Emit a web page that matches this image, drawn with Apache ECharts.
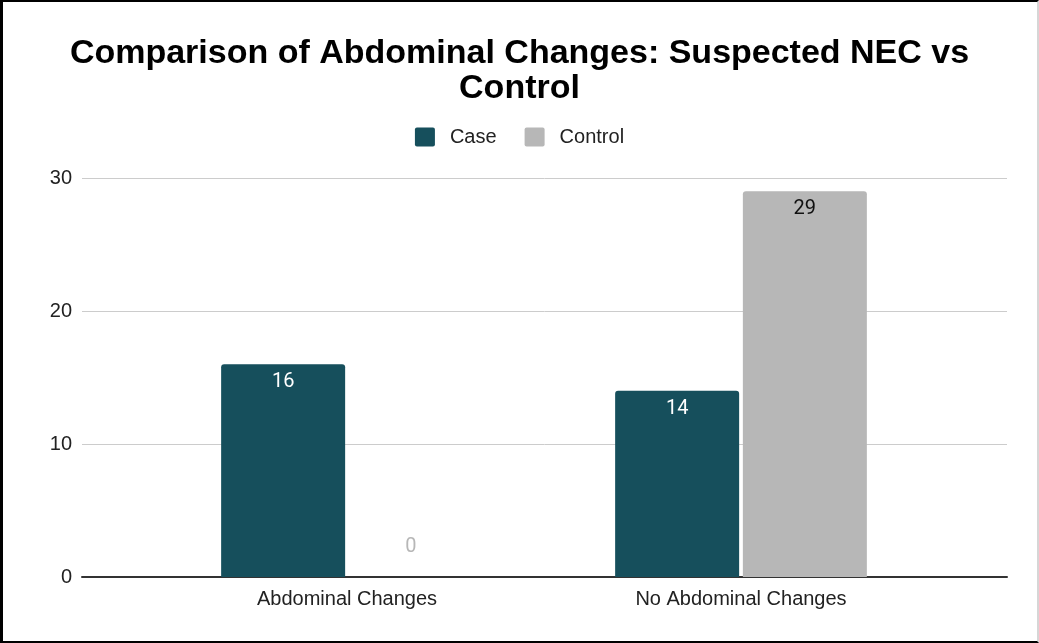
<!DOCTYPE html>
<html>
<head>
<meta charset="utf-8">
<script src="https://cdn.jsdelivr.net/npm/echarts@6/dist/echarts.min.js"></script>
<style>
  html, body { margin: 0; padding: 0; background: #fff; }
  #wrap { position: relative; width: 1039px; height: 643px; }
  #chart { position: absolute; left: 0; top: 0; width: 1039px; height: 643px; }
  #frame {
    position: absolute; left: 0; top: 0; width: 1039px; height: 643px;
    box-sizing: border-box; pointer-events: none;
    border-left: 3px solid #000; border-top: 2px solid #000;
    border-bottom: 2px solid #000; border-right: 2px solid #d6d6d6;
  }
</style>
</head>
<body>
<div id="wrap">
  <div id="chart"></div>
  <div id="frame"></div>
</div>
<script>
// Chart data
const titleText = 'Comparison of Abdominal Changes: Suspected NEC vs\nControl';
const categories = ['Abdominal Changes', 'No Abdominal Changes'];
const caseValues = [16, 14];
const controlValues = [0, 29];
const yTicks = [0, 10, 20, 30];

const CASE_COLOR = '#164f5c';
const CONTROL_COLOR = '#b7b7b7';
const textFont = '"Liberation Sans", Arial, sans-serif';
const valueFont = 'Roboto, "Liberation Sans", Arial, sans-serif';

const yMin = yTicks[0];
const yMax = yTicks[yTicks.length - 1];
const yStep = yTicks[1] - yTicks[0];

// Control labels sit inside the bar top; an empty bar gets its label above the baseline
const controlData = controlValues.map(v => v === 0
  ? { value: v, label: { position: 'top', distance: 20, color: CONTROL_COLOR } }
  : { value: v });

// legend swatch: square with slightly rounded corners
const swatch = 'path://M2,0 H18 Q20,0 20,2 V17 Q20,19 18,19 H2 Q0,19 0,17 V2 Q0,0 2,0 Z';

const chart = echarts.init(document.getElementById('chart'), null, { renderer: 'canvas' });

chart.setOption({
  backgroundColor: '#fff',
  animation: false,
  title: {
    text: titleText,
    left: 'center',
    top: 31,
    textStyle: {
      fontFamily: textFont,
      fontWeight: 'bold',
      fontSize: 34,
      lineHeight: 35,
      color: '#000'
    }
  },
  legend: {
    top: 122,
    left: 'center',
    itemWidth: 20,
    itemHeight: 19,
    itemGap: 28,
    icon: swatch,
    textStyle: { fontFamily: textFont, fontSize: 20, color: '#222', padding: [0, 0, 0, 10] },
    data: ['Case', 'Control']
  },
  grid: [
    // full-width frame: gridlines, tick labels and baseline
    { left: 82, right: 32, top: 178, bottom: 66 },
    // bar area
    { left: 150, right: 101, top: 178, bottom: 66 }
  ],
  xAxis: [
    {
      gridIndex: 0, type: 'value', min: 0, max: 1,
      axisLine: { show: true, onZero: false, lineStyle: { color: '#333', width: 2 } },
      axisTick: { show: false }, axisLabel: { show: false }, splitLine: { show: false }
    },
    {
      gridIndex: 1, type: 'category', data: categories,
      axisLine: { show: false }, axisTick: { show: false },
      axisLabel: { margin: 12, fontFamily: textFont, fontSize: 20, color: '#222' }
    }
  ],
  yAxis: [
    {
      gridIndex: 0, type: 'value', min: yMin, max: yMax, interval: yStep,
      axisLine: { show: false }, axisTick: { show: false },
      axisLabel: { margin: 10, fontFamily: textFont, fontSize: 20, color: '#222' },
      splitLine: { show: true, lineStyle: { color: '#cccccc', width: 1 } }
    },
    {
      gridIndex: 1, type: 'value', min: yMin, max: yMax, interval: yStep,
      show: false, splitLine: { show: false }
    }
  ],
  series: [
    {
      name: 'Case', type: 'bar', xAxisIndex: 1, yAxisIndex: 1,
      data: caseValues,
      barWidth: 124, barGap: '3%',
      itemStyle: { color: CASE_COLOR, borderRadius: [3, 3, 0, 0] },
      label: { show: true, position: 'insideTop', distance: 8, color: '#fff',
               fontFamily: valueFont, fontSize: 20 }
    },
    {
      name: 'Control', type: 'bar', xAxisIndex: 1, yAxisIndex: 1,
      data: controlData,
      barWidth: 124, barGap: '3%',
      itemStyle: { color: CONTROL_COLOR, borderRadius: [3, 3, 0, 0] },
      label: { show: true, position: 'insideTop', distance: 8, color: '#111',
               fontFamily: valueFont, fontSize: 20 }
    }
  ]
});
</script>
</body>
</html>
